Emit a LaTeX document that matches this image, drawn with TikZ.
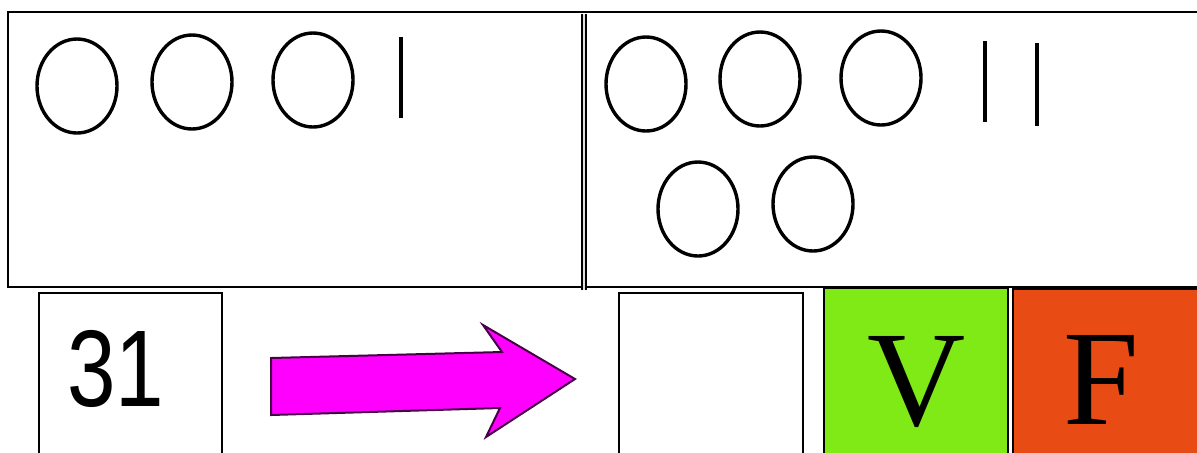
\documentclass[tikz,border=0pt]{standalone}
\usepackage{fontspec}
\usetikzlibrary{shapes.geometric}
\newfontfamily\numfont{Liberation Sans}
\newfontfamily\vffont{Liberation Serif}
\definecolor{vgreen}{RGB}{128,234,22}
\definecolor{forange}{RGB}{232,76,20}
\definecolor{amag}{RGB}{255,0,255}
\definecolor{amagline}{RGB}{70,0,70}
\begin{document}
\begin{tikzpicture}[x=0.5pt,y=-0.5pt,
  oval/.style={draw, ellipse, inner sep=0pt, minimum width=40pt, minimum height=47pt, line width=1.7pt},
  tally/.style={line width=2pt},
  panel/.style={draw, rectangle, line width=1.2pt, inner sep=0pt, anchor=north west},
  card/.style={draw, rectangle, line width=1.2pt, inner sep=0pt, anchor=north west, minimum height=100pt},
  divider/.style={line width=0.7pt, double=gray!25, double distance=1.2pt},
  numtext/.style={font=\numfont\fontsize{54.5}{60}\selectfont, inner sep=0pt},
  vftext/.style={font=\vffont\fontsize{68}{74}\selectfont, inner sep=0pt},
  bigarrow/.style={fill=amag, draw=amagline, line width=1pt, line join=miter}
]
\useasboundingbox (0,0) rectangle (1197,452);
\clip (0,0) rectangle (1197,452);

% top panel
\node[panel, minimum width=599pt, minimum height=137.5pt] (top) at (7,11) {};
\draw[divider] (584,14) -- (584,290);

% left half: 3 ovals and 1 tally
\node[oval] (l1) at (77,86) {};
\node[oval] (l2) at (192,82) {};
\node[oval] (l3) at (313,80) {};
\draw[tally] (401,37) -- (401,118);

% right half: 5 ovals and 2 tallies
\node[oval] (r1) at (646,84) {};
\node[oval] (r2) at (760,79) {};
\node[oval] (r3) at (881,78) {};
\draw[tally] (985,41) -- (985,122);
\draw[tally] (1037,43) -- (1037,126);
\node[oval] (r4) at (698,209) {};
\node[oval] (r5) at (813,204) {};

% bottom row
\node[card, minimum width=91.5pt] (b31) at (38,292) {};
\node[numtext] (t31) at (116,369) {\scalebox{0.8}[1]{31}};

\draw[bigarrow] (271,358) -- (502,352) -- (483,325) -- (575,379) -- (486,437) -- (500,408) -- (271,415) -- cycle;

\node[card, minimum width=92pt] (bempty) at (618,292) {};
\node[card, minimum width=92pt, fill=vgreen] (bV) at (823,287) {};
\node[card, minimum width=94pt, fill=forange] (bF) at (1012,288) {};
\draw[line width=2pt] (bF.north west) -- (bF.north east);
\node[vftext] (tV) at (916.5,382) {V};
\node[vftext] (tF) at (1101,380) {F};
\end{tikzpicture}
\end{document}
